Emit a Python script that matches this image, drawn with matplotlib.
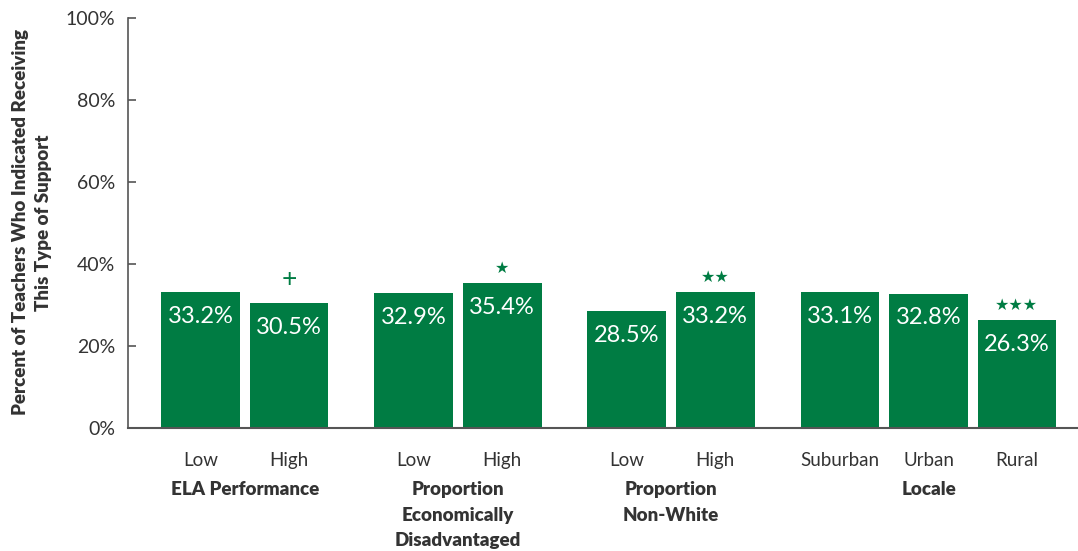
import numpy as np
import matplotlib.pyplot as plt

# Share of teachers receiving this support, by school characteristic
groups = ["ELA Performance", "Proportion\nEconomically\nDisadvantaged",
          "Proportion\nNon-White", "Locale"]
categories = [["Low", "High"], ["Low", "High"], ["Low", "High"],
              ["Suburban", "Urban", "Rural"]]
values = [[33.2, 30.5], [32.9, 35.4], [28.5, 33.2], [33.1, 32.8, 26.3]]
# significance markers drawn above bars ("" = none)
marks = [["", "+"], ["", "\u2605"], ["", "\u2605\u2605"],
         ["", "", "\u2605\u2605\u2605"]]

GREEN = "#007C43"
GREY = "#333333"
FONT = "Lato"

plt.rcParams["font.family"] = [FONT, "DejaVu Sans"]

fig = plt.figure(figsize=(10.78, 5.51), dpi=100)
ax = fig.add_axes([0.1187, 0.2232, 0.8813, 0.744])

gap = 0.41  # extra space between groups
x = []
labels = []
vals = []
sig = []
pos = 0.0
group_centres = []
for cats, vs, ms in zip(categories, values, marks):
    xs = [pos + i for i in range(len(cats))]
    x += xs
    labels += cats
    vals += vs
    sig += ms
    group_centres.append(np.mean(xs))
    pos = xs[-1] + 1 + gap

bars = ax.bar(x, vals, width=0.89, color=GREEN, zorder=2)

for xi, v, m in zip(x, vals, sig):
    ax.annotate("%.1f%%" % v, (xi, v), xytext=(0, -10),
                textcoords="offset points", ha="center", va="top",
                color="white", fontsize=17, family=FONT)
    if m == "+":
        ax.annotate(m, (xi, v), xytext=(0, 8), textcoords="offset points",
                    ha="center", va="bottom", color=GREEN, fontsize=19)
    elif m:
        ax.annotate(m, (xi, v), xytext=(0, 5), textcoords="offset points",
                    ha="center", va="bottom", color=GREEN, fontsize=11.5,
                    family="DejaVu Sans")

ax.set_ylim(0, 100)
ax.set_xlim(-0.82, 9.92)
ax.set_yticks(np.arange(0, 101, 20))
ax.set_yticklabels(["%d%%" % t for t in range(0, 101, 20)])
ax.tick_params(axis="y", direction="in", length=6, width=1.2,
               color="#555555", labelsize=14, labelcolor=GREY, pad=9)

ax.set_xticks(x)
ax.set_xticklabels(labels)
ax.tick_params(axis="x", length=0, labelsize=13.5, labelcolor=GREY, pad=17)

for xc, g in zip(group_centres, groups):
    ax.text(xc, -12.9, g, ha="center", va="top", fontsize=13.5,
            fontweight="heavy", color=GREY, linespacing=1.62,
            transform=ax.transData, clip_on=False)

for s in ["top", "right"]:
    ax.spines[s].set_visible(False)
ax.spines["left"].set_color("#555555")
ax.spines["left"].set_linewidth(1.2)
ax.spines["bottom"].set_color("#555555")
ax.spines["bottom"].set_linewidth(1.5)

fig.text(0.030, 0.5965, "Percent of Teachers Who Indicated Receiving\nThis Type of Support",
         rotation=90, ha="center", va="center", fontsize=13.5,
         fontweight="heavy", color=GREY, linespacing=1.45)

fig.savefig("out.png", dpi=100)
